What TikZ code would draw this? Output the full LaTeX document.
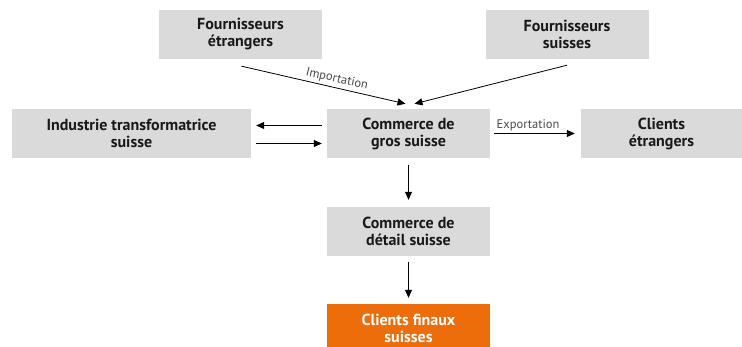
\documentclass[tikz,border=0pt]{standalone}
\usepackage{fontspec}
\setmainfont{PT Sans}
\usepackage{tikz}
\usetikzlibrary{arrows.meta}

\definecolor{boxgray}{HTML}{DADADA}
\definecolor{boxorange}{HTML}{EC6D0A}
\definecolor{labelgray}{HTML}{4A4A4A}

\begin{document}
\begin{tikzpicture}[x=1pt, y=-1pt,
    box/.style={fill=boxgray, minimum width=163pt, minimum height=49pt, inner sep=0pt,
        align=center, font=\fontsize{16}{17}\selectfont\bfseries, text=black!90},
    arr/.style={-{Triangle[length=8pt, width=7pt]}, line width=0.8pt},
    lbl/.style={font=\fontsize{12.5}{14}\selectfont, text=labelgray}]

\useasboundingbox (0, 0) rectangle (742, 347);

\node[box] (fe) at (240.5, 34.5) {Fournisseurs\\étrangers};
\node[box] (fs) at (567, 34.5) {Fournisseurs\\suisses};
\node[box, minimum width=239pt] (indus) at (131.5, 133.5) {Industrie transformatrice\\suisse};
\node[box] (gros) at (408.5, 133.5) {Commerce de\\gros suisse};
\node[box, minimum width=161pt] (ce) at (661.5, 133.5) {Clients\\étrangers};
\node[box] (detail) at (408.5, 231.5) {Commerce de\\détail suisse};
\node[box, fill=boxorange, text=white] (finaux) at (408.5, 328.5) {Clients finaux\\suisses};

\draw[arr] ([xshift=1pt, yshift=-7pt]fe.south) -- ([xshift=-3pt, yshift=5pt]gros.north)
    node[lbl, sloped, above, pos=0.57, inner sep=2.5pt] {Importation};
\draw[arr] ([yshift=-6pt]fs.south) -- ([xshift=6pt, yshift=5pt]gros.north);

\draw[arr] ([xshift=-5pt, yshift=8pt]gros.west) -- ([xshift=5pt, yshift=8pt]indus.east);
\draw[arr] ([xshift=5pt, yshift=-10pt]indus.east) -- ([xshift=-5pt, yshift=-10pt]gros.west);

\draw[arr] ([xshift=4pt]gros.east) -- ([xshift=-6pt]ce.west)
    node[lbl, above, pos=0.42, inner sep=2pt] {Exportation};

\draw[arr] ([yshift=-7pt]gros.south) -- ([yshift=7pt]detail.north);
\draw[arr] ([yshift=-6pt]detail.south) -- ([yshift=6pt]finaux.north);

\end{tikzpicture}
\end{document}
